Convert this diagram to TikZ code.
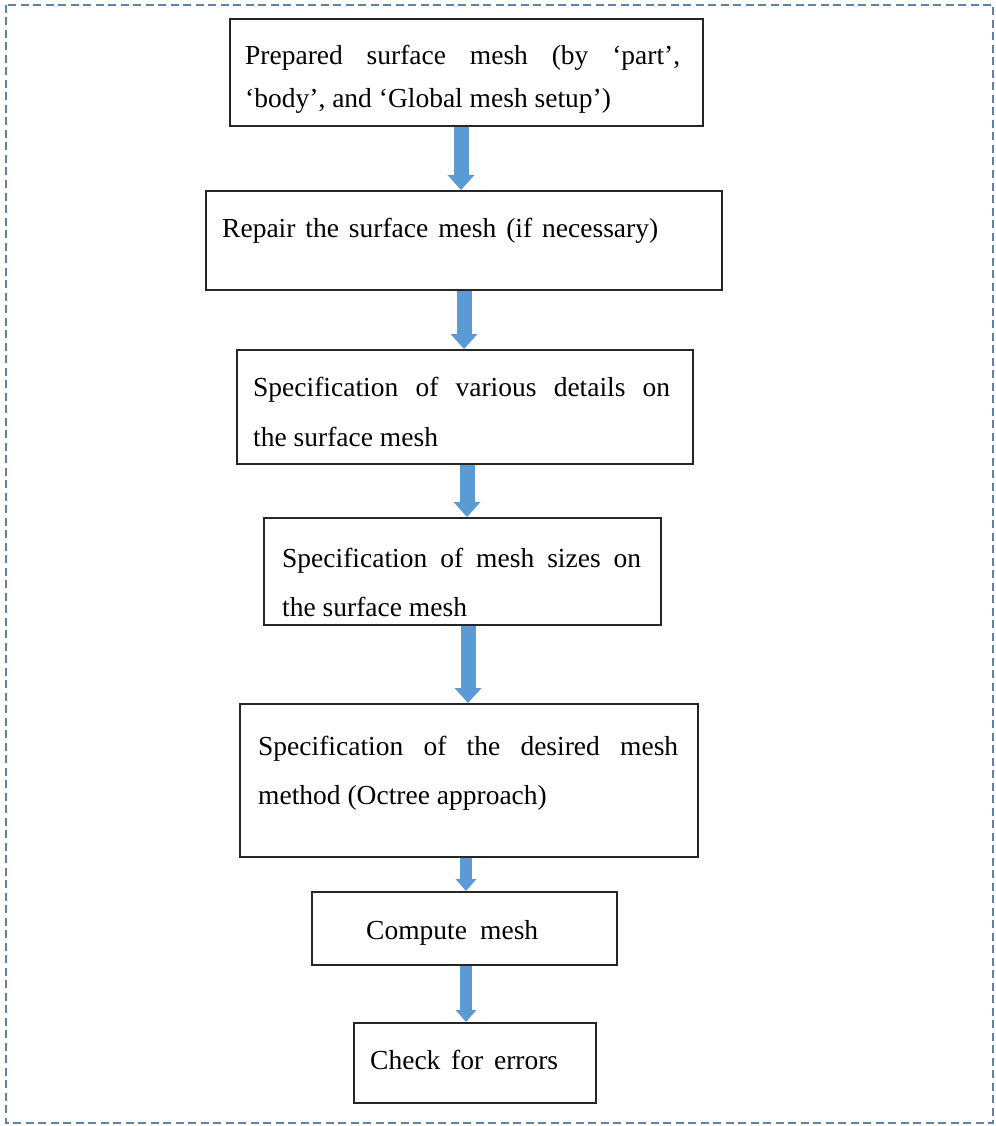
\documentclass[tikz,border=0pt]{standalone}
\usepackage{fontspec}
\setmainfont{Liberation Serif}
\usetikzlibrary{arrows.meta}
\definecolor{flowblue}{HTML}{5B9BD5}
\definecolor{framecol}{HTML}{5F82AA}

\begin{document}
\begin{tikzpicture}[x=1pt,y=1pt,
  stepbox/.style={draw=black!85, line width=1.7pt, fill=white, inner sep=0pt, anchor=north west},
  steptext/.style={anchor=base west, inner sep=0pt, align=left, font=\fontsize{27.5}{#1}\selectfont},
  steptext/.default=48,
  bigflow/.style={draw=flowblue, line width=15pt, -{Triangle[width=27pt,length=15pt,line width=0pt,color=flowblue]}},
  smallflow/.style={draw=flowblue, line width=12pt, -{Triangle[width=21pt,length=12pt,line width=0pt,color=flowblue]}},
]
\useasboundingbox (0,0) rectangle (995,-1126);

% dashed outer frame
\draw[framecol, line width=1.5pt, dash pattern=on 8pt off 4.5pt] (6,-5) rectangle (993,-1123);

% process boxes
\node[stepbox, minimum width=473, minimum height=107] (b1) at (229,-18) {};
\node[stepbox, minimum width=516, minimum height=99]  (b2) at (205,-190) {};
\node[stepbox, minimum width=456, minimum height=114] (b3) at (236,-349) {};
\node[stepbox, minimum width=397, minimum height=107] (b4) at (263,-517) {};
\node[stepbox, minimum width=458, minimum height=153] (b5) at (239,-703) {};
\node[stepbox, minimum width=305, minimum height=73]  (b6) at (311,-891) {};
\node[stepbox, minimum width=242, minimum height=80]  (b7) at (353,-1022) {};

% box texts (multi-line nodes are placed by the baseline of their last line)
\node[steptext=43] (t1) at (245,-108)
  {\makebox[435pt][s]{Prepared surface mesh (by ‘part’,}\\‘body’, and ‘Global mesh setup’)};
\node[steptext] (t2) at (222,-237)
  {\makebox[436pt][s]{Repair the surface mesh (if necessary)}};
\node[steptext=50] (t3) at (253,-446)
  {\makebox[417pt][s]{Specification of various details on}\\the surface mesh};
\node[steptext=49] (t4) at (282,-616)
  {\makebox[359pt][s]{Specification of mesh sizes on}\\the surface mesh};
\node[steptext=49] (t5) at (258,-804)
  {\makebox[420pt][s]{Specification of the desired mesh}\\method (Octree approach)};
\node[steptext] (t6) at (366,-939)
  {\makebox[172pt][s]{Compute mesh}};
\node[steptext] (t7) at (370,-1069)
  {\makebox[188pt][s]{Check for errors}};

% flow arrows
\coordinate (x1) at (461,0);
\coordinate (x2) at (464,0);
\coordinate (x3) at (467,0);
\coordinate (x4) at (468,0);
\coordinate (x5) at (466,0);
\coordinate (x6) at (466,0);
\draw[bigflow]   (b1.south -| x1) -- (b2.north -| x1);
\draw[bigflow]   (b2.south -| x2) -- (b3.north -| x2);
\draw[bigflow]   (b3.south -| x3) -- (b4.north -| x3);
\draw[bigflow]   (b4.south -| x4) -- (b5.north -| x4);
\draw[smallflow] (b5.south -| x5) -- (b6.north -| x5);
\draw[smallflow] (b6.south -| x6) -- (b7.north -| x6);
\end{tikzpicture}
\end{document}
